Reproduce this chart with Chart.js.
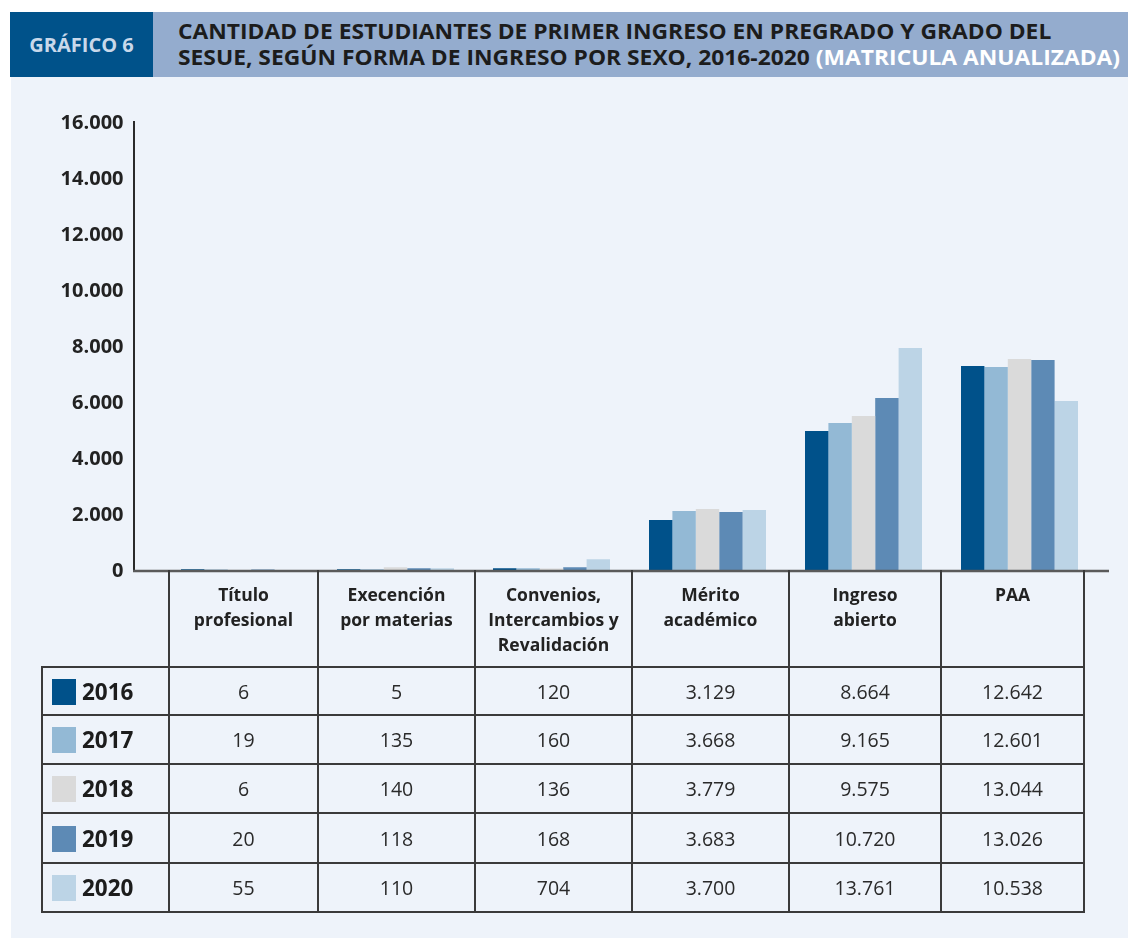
<!DOCTYPE html>
<html lang="es">
<head>
<meta charset="utf-8">
<script src="https://cdn.jsdelivr.net/npm/chart.js@4"></script>
<style>
  html, body { margin:0; padding:0; background:#fff; }
  body { width:1128px; height:938px; position:relative; overflow:hidden; font-family:"Open Sans", sans-serif; color:#1e1e1e; }
  .panel { position:absolute; left:11px; top:77px; right:0; bottom:0; background:#eef3fa; }
  .tag { position:absolute; left:10px; top:12px; width:143px; height:65px; background:#00528a; color:#c8d8ea;
         font-weight:700; font-size:20px; display:flex; align-items:center; justify-content:center; }
  .band { position:absolute; left:153px; top:12px; right:0; height:65px; background:#94acce; }
  .title { position:absolute; left:25px; top:6px; font-weight:700; font-size:21px; line-height:26px; color:#1c1c1c;
           white-space:nowrap; transform-origin:0 0; }
  .title span { color:#fff; }
  #wrap { position:absolute; left:0; top:0; width:1128px; height:938px; }
  table { position:absolute; left:41px; top:570px; border-collapse:collapse; table-layout:fixed; }
  td { border:2px solid #3a3a3a; padding:0; text-align:center; font-size:19.5px; color:#2a2a2a; }
  tr.head td { border-top:none; vertical-align:top; font-weight:700; font-size:17.5px; line-height:25px; padding-top:12px; color:#222; }
  tr.head td.blank { border-left:none; }
  td.yr { text-align:left; font-weight:700; font-size:22.5px; color:#1c1c1c; }
  td.yr i { display:inline-block; width:24px; height:26px; margin:0 6px 0 9px; vertical-align:-5px; }
</style>
</head>
<body>
<div class="panel"></div>
<div class="tag">GRÁFICO 6</div>
<div class="band"><div class="title" id="title">CANTIDAD DE ESTUDIANTES DE PRIMER INGRESO EN PREGRADO Y GRADO DEL<br>SESUE, SEGÚN FORMA DE INGRESO POR SEXO, 2016-2020 <span>(MATRICULA ANUALIZADA)</span></div></div>
<div id="wrap"><canvas id="c" width="1128" height="938"></canvas></div>
<table id="tbl"></table>
<script>
'use strict';

const categories = [['Título','profesional'], ['Execención','por materias'], ['Convenios,','Intercambios y','Revalidación'], ['Mérito','académico'], ['Ingreso','abierto'], ['PAA']];
const years  = ['2016', '2017', '2018', '2019', '2020'];
const colors = ['#00518a', '#93b9d5', '#dadada', '#5d8ab5', '#bcd4e6'];

// bar heights as drawn in the picture (per year, per category)
const bars2016 = [60, 60, 100, 1820, 5000, 7320];
const bars2017 = [50, 60, 100, 2140, 5290, 7290];
const bars2018 = [40, 130, 90, 2210, 5540, 7570];
const bars2019 = [50, 100, 130, 2110, 6180, 7540];
const bars2020 = [40, 100, 420, 2180, 7960, 6070];

// values printed in the table
const tbl2016 = ['6', '5', '120', '3.129', '8.664', '12.642'];
const tbl2017 = ['19', '135', '160', '3.668', '9.165', '12.601'];
const tbl2018 = ['6', '140', '136', '3.779', '9.575', '13.044'];
const tbl2019 = ['20', '118', '168', '3.683', '10.720', '13.026'];
const tbl2020 = ['55', '110', '704', '3.700', '13.761', '10.538'];

const yMax = 16000, yStep = 2000;

const barSets = [bars2016, bars2017, bars2018, bars2019, bars2020];
const tblSets = [tbl2016, tbl2017, tbl2018, tbl2019, tbl2020];

// fit title width
(function(){
  const t = document.getElementById('title');
  const w = t.getBoundingClientRect().width;
  t.style.transform = `scaleX(${(1120 - 178) / w})`;
})();

// table
(function(){
  const widths = [127, 149, 157, 157, 157, 152, 143];
  const tb = document.getElementById('tbl');
  let h = '<colgroup>' + widths.map(w => `<col style="width:${w}px">`).join('') + '</colgroup>';
  h += '<tr class="head" style="height:97px"><td class="blank" style="border-left:none"></td>' +
       categories.map(c => `<td>${c.join('<br>')}</td>`).join('') + '</tr>';
  const rh = [48, 49, 49, 50, 49];
  years.forEach((y, i) => {
    h += `<tr style="height:${rh[i]}px"><td class="yr"><i style="background:${colors[i]}"></i>${y}</td>` +
         tblSets[i].map(v => `<td>${v}</td>`).join('') + '</tr>';
  });
  tb.innerHTML = h;
})();

const axisLines = {
  id: 'axisLines',
  afterDatasetsDraw(chart) {
    const { ctx, scales } = chart;
    const y0 = scales.y.getPixelForValue(0);
    const yTop = scales.y.getPixelForValue(yMax);
    ctx.save();
    ctx.strokeStyle = '#2a2a2a';
    ctx.lineWidth = 2;
    ctx.beginPath();
    ctx.moveTo(134, yTop - 2); ctx.lineTo(134, y0);
    ctx.stroke();
    ctx.strokeStyle = '#5a5a5a';
    ctx.lineWidth = 2.5;
    ctx.beginPath();
    ctx.moveTo(133, y0); ctx.lineTo(1109, y0);
    ctx.stroke();
    ctx.restore();
  }
};

new Chart(document.getElementById('c'), {
  type: 'bar',
  data: {
    labels: categories.map(c => c.join(' ')),
    datasets: years.map((y, i) => ({
      label: y, data: barSets[i], backgroundColor: colors[i], borderWidth: 0,
      categoryPercentage: 0.75, barPercentage: 1,
    })),
  },
  options: {
    responsive: false, animation: false,
    layout: { padding: { left: 0, right: 30.5, top: 123, bottom: 367 } },
    plugins: { legend: { display: false }, tooltip: { enabled: false } },
    scales: {
      x: { display: false },
      y: {
        min: 0, max: yMax,
        afterFit(s) { s.width = 161.5; },
        border: { display: false },
        grid: { display: false, drawTicks: false },
        ticks: {
          stepSize: yStep, padding: 38, color: '#222',
          font: { family: 'Open Sans', weight: 'bold', size: 20 },
          callback: v => v.toLocaleString('de-DE'),
        },
      },
    },
  },
  plugins: [axisLines],
});
</script>
</body>
</html>
